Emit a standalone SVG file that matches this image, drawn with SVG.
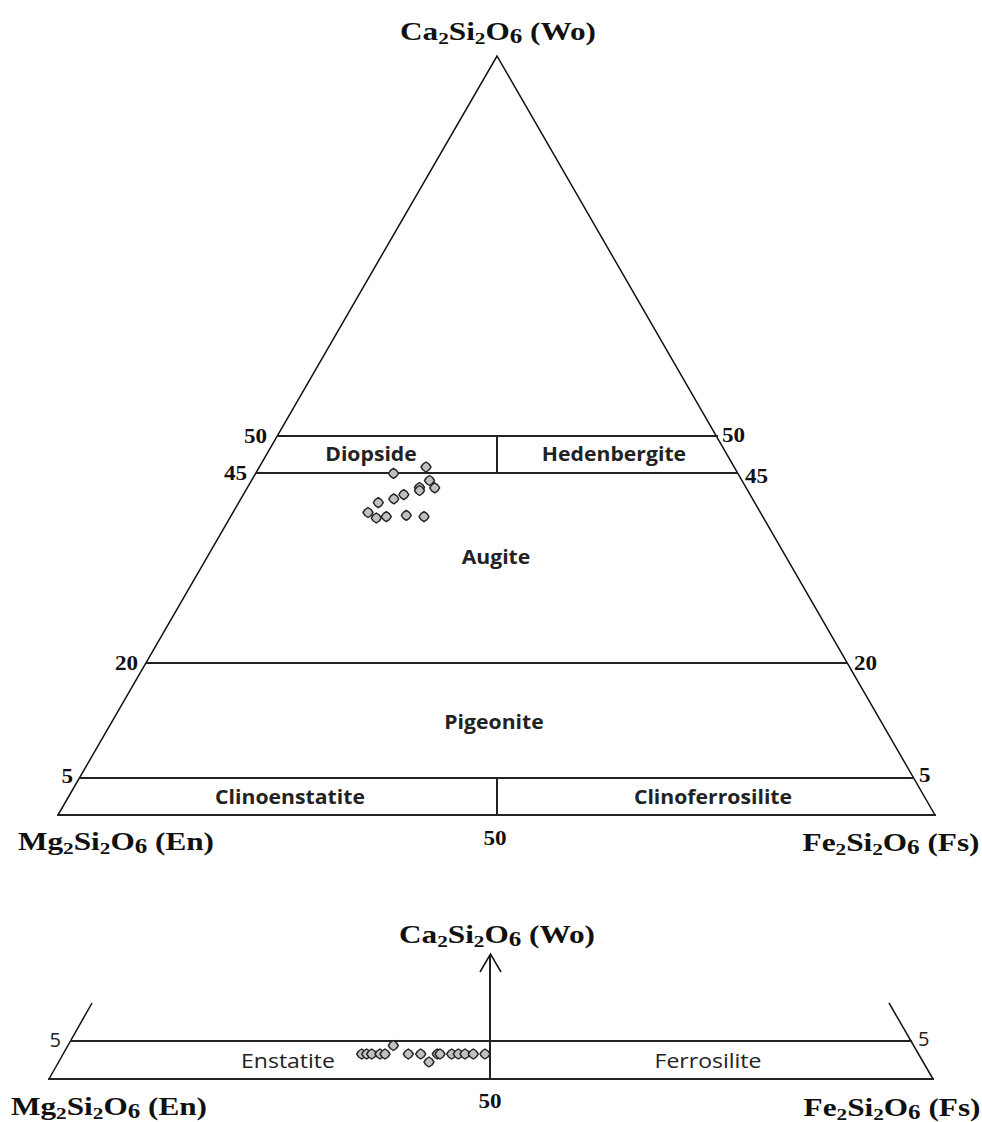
<svg xmlns="http://www.w3.org/2000/svg" width="982" height="1122" viewBox="0 0 982 1122">
<style>
.chem{font-family:"Liberation Serif","Times New Roman",serif;font-weight:bold;font-size:25px;fill:#111}
.sub{font-size:17px}
.sub6{font-size:20px}
.num{font-family:"Liberation Serif","Times New Roman",serif;font-weight:bold;font-size:21px;fill:#111}
.min{font-family:"Open Sans","Liberation Sans",sans-serif;font-weight:bold;font-size:20px;fill:#222}
.minr{font-family:"Open Sans","Liberation Sans",sans-serif;font-size:20px;fill:#222}
.side{stroke:#111;stroke-width:1.5;fill:none}
.hl{stroke:#222;stroke-width:2;fill:none}
.pt{fill:#c0c0c0;stroke:#222;stroke-width:1.4;stroke-linejoin:round}
</style>
<defs>
<polygon id="p" class="pt" points="0,-5 3,-3 5,0 3,3 0,5 -3,3 -5,0 -3,-3"/>
</defs>
<rect width="982" height="1122" fill="#fff"/>

<g id="ternary-frame">
<polyline class="side" points="58,815 497,56 935,815"/>
<line class="hl" x1="57" y1="815" x2="936" y2="815"/>
<line class="hl" x1="277" y1="436" x2="718" y2="436"/>
<line class="hl" x1="256" y1="473" x2="738" y2="473"/>
<line class="hl" x1="146" y1="663" x2="847" y2="663"/>
<line class="hl" x1="79" y1="778" x2="913" y2="778"/>
<line class="hl" x1="497" y1="436" x2="497" y2="473"/>
<line class="hl" x1="497" y1="778" x2="497" y2="815"/>
</g>

<g id="top-labels">
<text class="chem" text-anchor="middle" transform="translate(498,40) scale(1.25,1)">Ca<tspan class="sub" dy="4">2</tspan><tspan dy="-4">Si</tspan><tspan class="sub" dy="4">2</tspan><tspan dy="-4">O</tspan><tspan class="sub6" dy="3">6</tspan><tspan dy="-3"> (Wo)</tspan></text>
<text class="chem" text-anchor="middle" transform="translate(116,850) scale(1.25,1)">Mg<tspan class="sub" dy="4">2</tspan><tspan dy="-4">Si</tspan><tspan class="sub" dy="4">2</tspan><tspan dy="-4">O</tspan><tspan class="sub6" dy="3">6</tspan><tspan dy="-3"> (En)</tspan></text>
<text class="chem" text-anchor="middle" transform="translate(891,851) scale(1.25,1)">Fe<tspan class="sub" dy="4">2</tspan><tspan dy="-4">Si</tspan><tspan class="sub" dy="4">2</tspan><tspan dy="-4">O</tspan><tspan class="sub6" dy="3">6</tspan><tspan dy="-3"> (Fs)</tspan></text>
</g>

<g id="top-ticks">
<text class="num" text-anchor="end" transform="translate(267,443) scale(1.1,1)">50</text>
<text class="num" text-anchor="end" transform="translate(247,480) scale(1.1,1)">45</text>
<text class="num" text-anchor="end" transform="translate(138,670) scale(1.1,1)">20</text>
<text class="num" text-anchor="end" transform="translate(73,783) scale(1.1,1)">5</text>
<text class="num" text-anchor="start" transform="translate(722,442) scale(1.1,1)">50</text>
<text class="num" text-anchor="start" transform="translate(745,483) scale(1.1,1)">45</text>
<text class="num" text-anchor="start" transform="translate(854,670) scale(1.1,1)">20</text>
<text class="num" text-anchor="start" transform="translate(919,782) scale(1.1,1)">5</text>
<text class="num" text-anchor="middle" font-size="23" transform="translate(495,845) scale(1.1,1)">50</text>
</g>

<g id="fields">
<text class="min" text-anchor="middle" transform="translate(371,461) scale(1.06,1)">Diopside</text>
<text class="min" text-anchor="middle" transform="translate(614,461) scale(1.06,1)">Hedenbergite</text>
<text class="min" text-anchor="middle" transform="translate(496,564) scale(1.06,1)">Augite</text>
<text class="min" text-anchor="middle" transform="translate(494,729) scale(1.06,1)">Pigeonite</text>
<text class="min" text-anchor="middle" transform="translate(290,804) scale(1.06,1)">Clinoenstatite</text>
<text class="min" text-anchor="middle" transform="translate(713,804) scale(1.06,1)">Clinoferrosilite</text>
</g>

<g id="top-points">
<use href="#p" x="393.5" y="473.3"/>
<use href="#p" x="426" y="467"/>
<use href="#p" x="429.5" y="480.5"/>
<use href="#p" x="434.7" y="487.8"/>
<use href="#p" x="419.5" y="487.5"/>
<use href="#p" x="419.5" y="490.5"/>
<use href="#p" x="403.8" y="494.7"/>
<use href="#p" x="393.8" y="498.8"/>
<use href="#p" x="378.3" y="502.7"/>
<use href="#p" x="368" y="512.5"/>
<use href="#p" x="376.3" y="518"/>
<use href="#p" x="386.3" y="516.7"/>
<use href="#p" x="406.3" y="515.3"/>
<use href="#p" x="424" y="516.7"/>
</g>

<g id="bottom-frame">
<line class="side" x1="92" y1="1003" x2="49" y2="1079"/>
<line class="side" x1="889" y1="1003" x2="933" y2="1079"/>
<line class="hl" x1="70" y1="1041" x2="912" y2="1041"/>
<line class="hl" x1="48" y1="1079" x2="934" y2="1079"/>
</g>

<g id="connectors">
<line class="hl" x1="490" y1="955" x2="490" y2="1079" stroke-width="1.6"/>
<polyline class="side" points="480,972 490.5,954 501,972"/>
</g>

<g id="bottom-labels">
<text class="chem" text-anchor="middle" transform="translate(497,943) scale(1.25,1)">Ca<tspan class="sub" dy="4">2</tspan><tspan dy="-4">Si</tspan><tspan class="sub" dy="4">2</tspan><tspan dy="-4">O</tspan><tspan class="sub6" dy="3">6</tspan><tspan dy="-3"> (Wo)</tspan></text>
<text class="chem" text-anchor="middle" transform="translate(109,1115) scale(1.25,1)">Mg<tspan class="sub" dy="4">2</tspan><tspan dy="-4">Si</tspan><tspan class="sub" dy="4">2</tspan><tspan dy="-4">O</tspan><tspan class="sub6" dy="3">6</tspan><tspan dy="-3"> (En)</tspan></text>
<text class="chem" text-anchor="middle" transform="translate(892,1116) scale(1.25,1)">Fe<tspan class="sub" dy="4">2</tspan><tspan dy="-4">Si</tspan><tspan class="sub" dy="4">2</tspan><tspan dy="-4">O</tspan><tspan class="sub6" dy="3">6</tspan><tspan dy="-3"> (Fs)</tspan></text>
<text class="minr" text-anchor="end" transform="translate(61,1047)">5</text>
<text class="minr" text-anchor="start" transform="translate(918,1046)">5</text>
<text class="num" text-anchor="middle" font-size="23" transform="translate(490,1108) scale(1.1,1)">50</text>
<text class="minr" text-anchor="middle" transform="translate(288,1068) scale(1.15,1)">Enstatite</text>
<text class="minr" text-anchor="middle" transform="translate(708,1068) scale(1.15,1)">Ferrosilite</text>
</g>

<g id="bottom-points">
<use href="#p" x="361.7" y="1054"/>
<use href="#p" x="366.7" y="1054"/>
<use href="#p" x="371.7" y="1054"/>
<use href="#p" x="380" y="1054"/>
<use href="#p" x="385" y="1054"/>
<use href="#p" x="393.3" y="1045.5"/>
<use href="#p" x="408.3" y="1054"/>
<use href="#p" x="420.7" y="1054"/>
<use href="#p" x="429" y="1062"/>
<use href="#p" x="437.3" y="1054"/>
<use href="#p" x="440" y="1054"/>
<use href="#p" x="451.7" y="1054"/>
<use href="#p" x="458.3" y="1054"/>
<use href="#p" x="465" y="1054"/>
<use href="#p" x="473.3" y="1054"/>
<use href="#p" x="485" y="1054"/>
</g>
</svg>
